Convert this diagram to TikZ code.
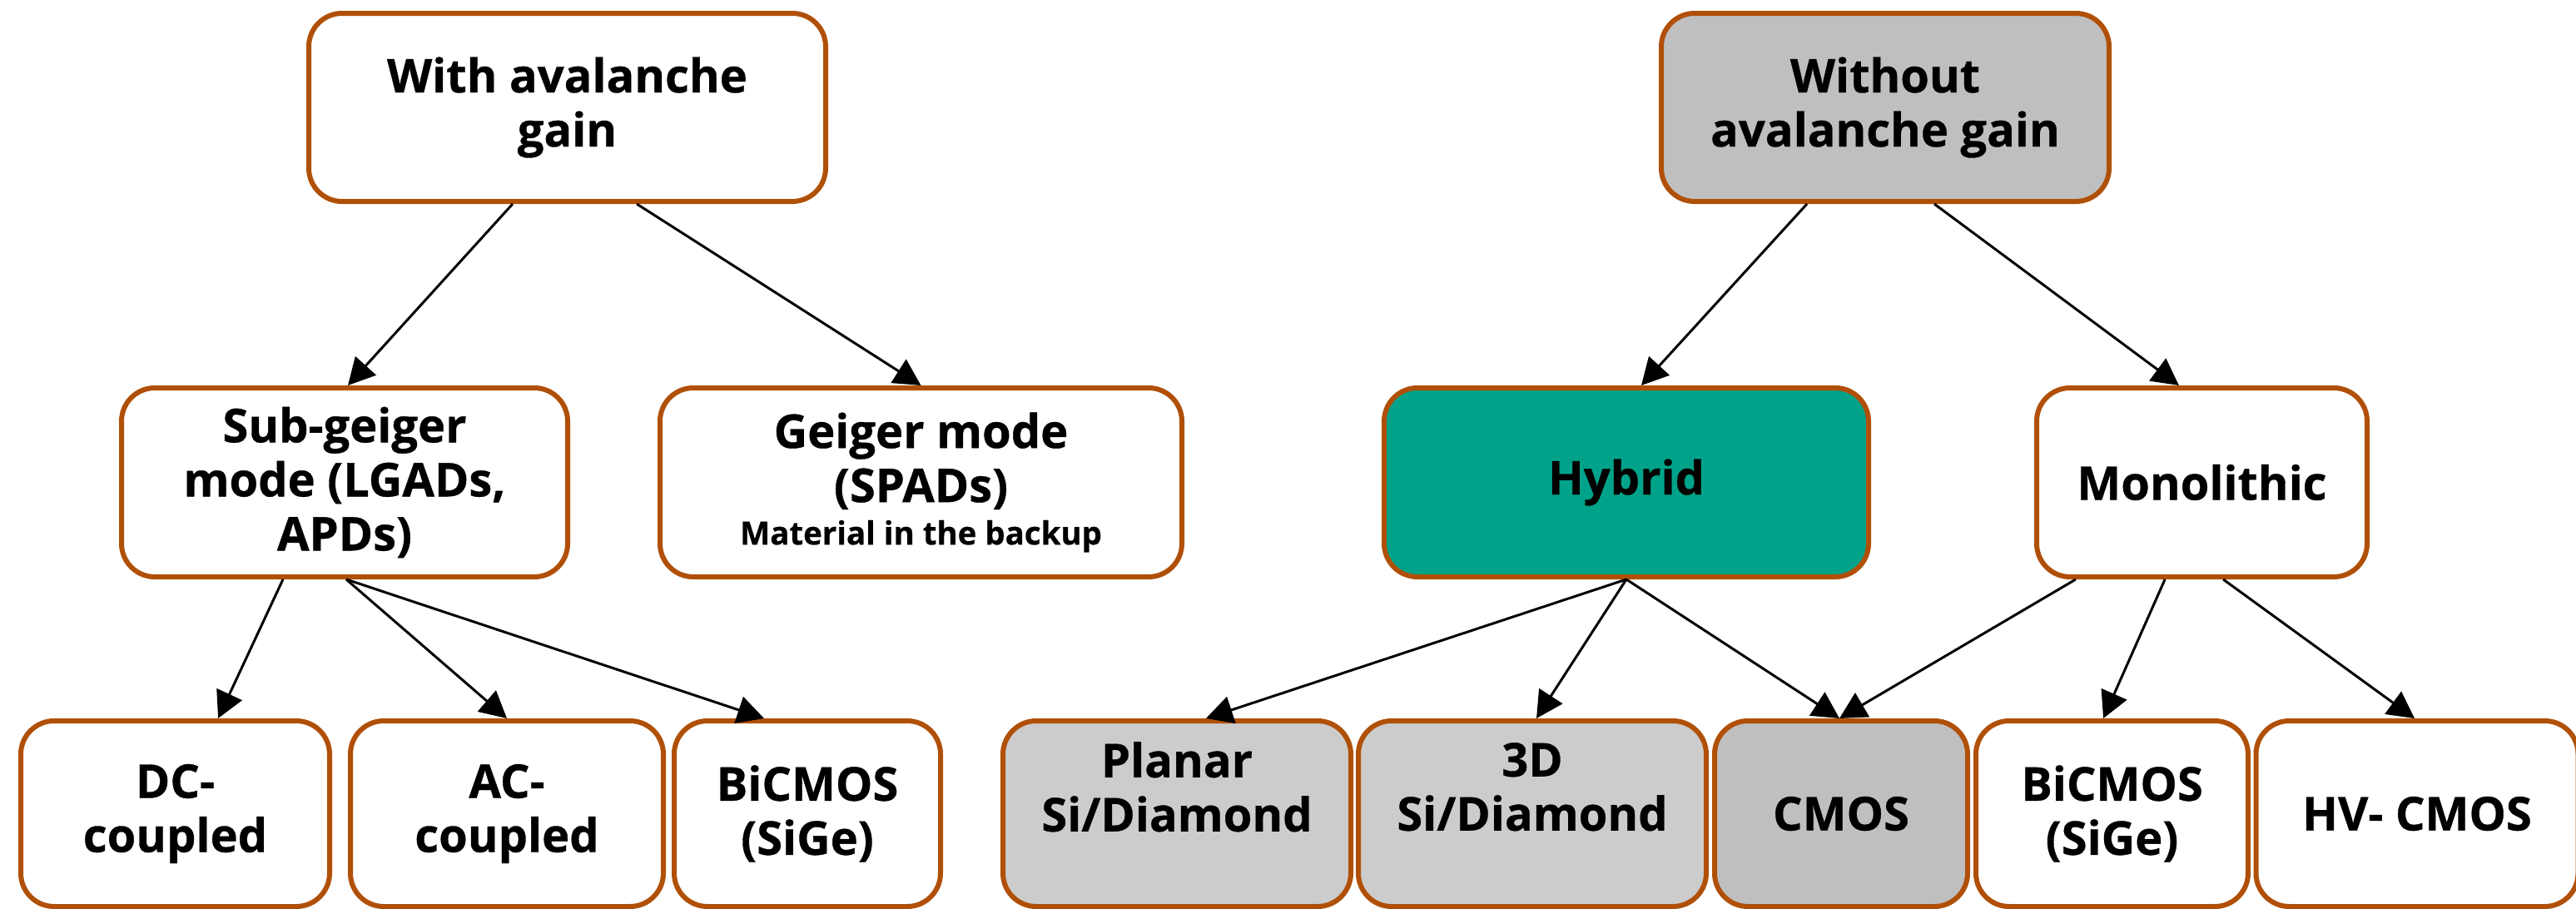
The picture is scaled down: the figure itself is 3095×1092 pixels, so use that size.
\documentclass[tikz,border=0pt]{standalone}
\usepackage{fontspec}
\setmainfont{Open Sans}[BoldFeatures={FakeBold=0.6}]
\usetikzlibrary{arrows.meta}
\definecolor{edge}{RGB}{176,80,8}
\definecolor{teal}{RGB}{0,163,137}
\definecolor{midgray}{RGB}{191,191,191}
\definecolor{lightgray}{RGB}{204,204,204}
\tikzset{
  bx/.style 2 args={draw=edge, line width=1.5pt, rounded corners=10pt,
    minimum width=#1*0.25pt, minimum height=#2*0.25pt, inner sep=0pt,
    align=center, font=\fontsize{14}{16.25}\selectfont\bfseries, fill=white},
  link/.style={line width=0.75pt, -{Triangle[length=8pt,width=8.3pt]}},
}
\newcommand{\smalltxt}{\fontsize{9.6}{11.5}\selectfont}
\begin{document}
\begin{tikzpicture}[x=0.25pt, y=-0.25pt]
\useasboundingbox (0,0) rectangle (3095,1092);

% top level
\node[bx={621}{226}] (b1) at (681.5,129) {With avalanche\\gain};
\node[bx={538}{226}, fill=midgray] (b2) at (2265,129) {Without\\avalanche gain};

% second level
\node[bx={536}{227}] (sg) at (414,579.5) {Sub-geiger\\mode (LGADs,\\APDs)};
\node[bx={627}{227}] (gm) at (1106.5,579.5) {Geiger mode\\(SPADs)\\[-3.5pt]{\smalltxt Material in the backup}};
\node[bx={582}{227}, fill=teal] (hy) at (1954,579.5) {Hybrid};
\node[bx={397}{227}] (mo) at (2645.5,579.5) {Monolithic};

% third level
\node[bx={371}{223}] (dc) at (210.5,977.5) {DC-\\coupled};
\node[bx={376}{223}] (ac) at (609,977.5) {AC-\\coupled};
\node[bx={320}{223}] (bl) at (970,977.5) {BiCMOS\\(SiGe)};
\node[bx={418}{223}, fill=lightgray] (pl) at (1414,977.5) {Planar\\Si/Diamond\\\phantom{X}};
\node[bx={418}{223}, fill=lightgray] (td) at (1841,977.5) {3D\\Si/Diamond\\\phantom{X}};
\node[bx={304}{223}, fill=midgray] (cm) at (2212,977.5) {CMOS};
\node[bx={327}{223}] (br) at (2537.5,977.5) {BiCMOS\\(SiGe)};
\node[bx={387}{223}] (hv) at (2904,977.5) {HV- CMOS};

% connectors
\draw[link] ([xshift=-16.4pt]b1.south) -- ([xshift=1pt]sg.north);
\draw[link] ([xshift=20.9pt]b1.south) -- (gm.north);
\draw[link] ([xshift=-23.5pt]b2.south) -- ([xshift=4.5pt]hy.north);
\draw[link] ([xshift=14.75pt]b2.south) -- ([xshift=-6.9pt]mo.north);

\draw[link] ([xshift=-18.5pt]sg.south) -- ([xshift=12.9pt]dc.north);
\draw[link] ([xshift=0.5pt]sg.south) -- (ac.north);
\draw[link] ([xshift=0.5pt]sg.south) -- ([xshift=-13pt]bl.north);

\draw[link] (hy.south) -- ([xshift=8.75pt]pl.north);
\draw[link] (hy.south) -- ([xshift=1.25pt]td.north);
\draw[link] (hy.south) -- ([xshift=-0.5pt]cm.north);

\draw[link] ([xshift=-37.9pt]mo.south) -- ([xshift=-0.5pt]cm.north);
\draw[link] ([xshift=-11.1pt]mo.south) -- ([xshift=-2.6pt]br.north);
\draw[link] ([xshift=6.4pt]mo.south) -- ([xshift=-0.75pt]hv.north);
\end{tikzpicture}
\end{document}
